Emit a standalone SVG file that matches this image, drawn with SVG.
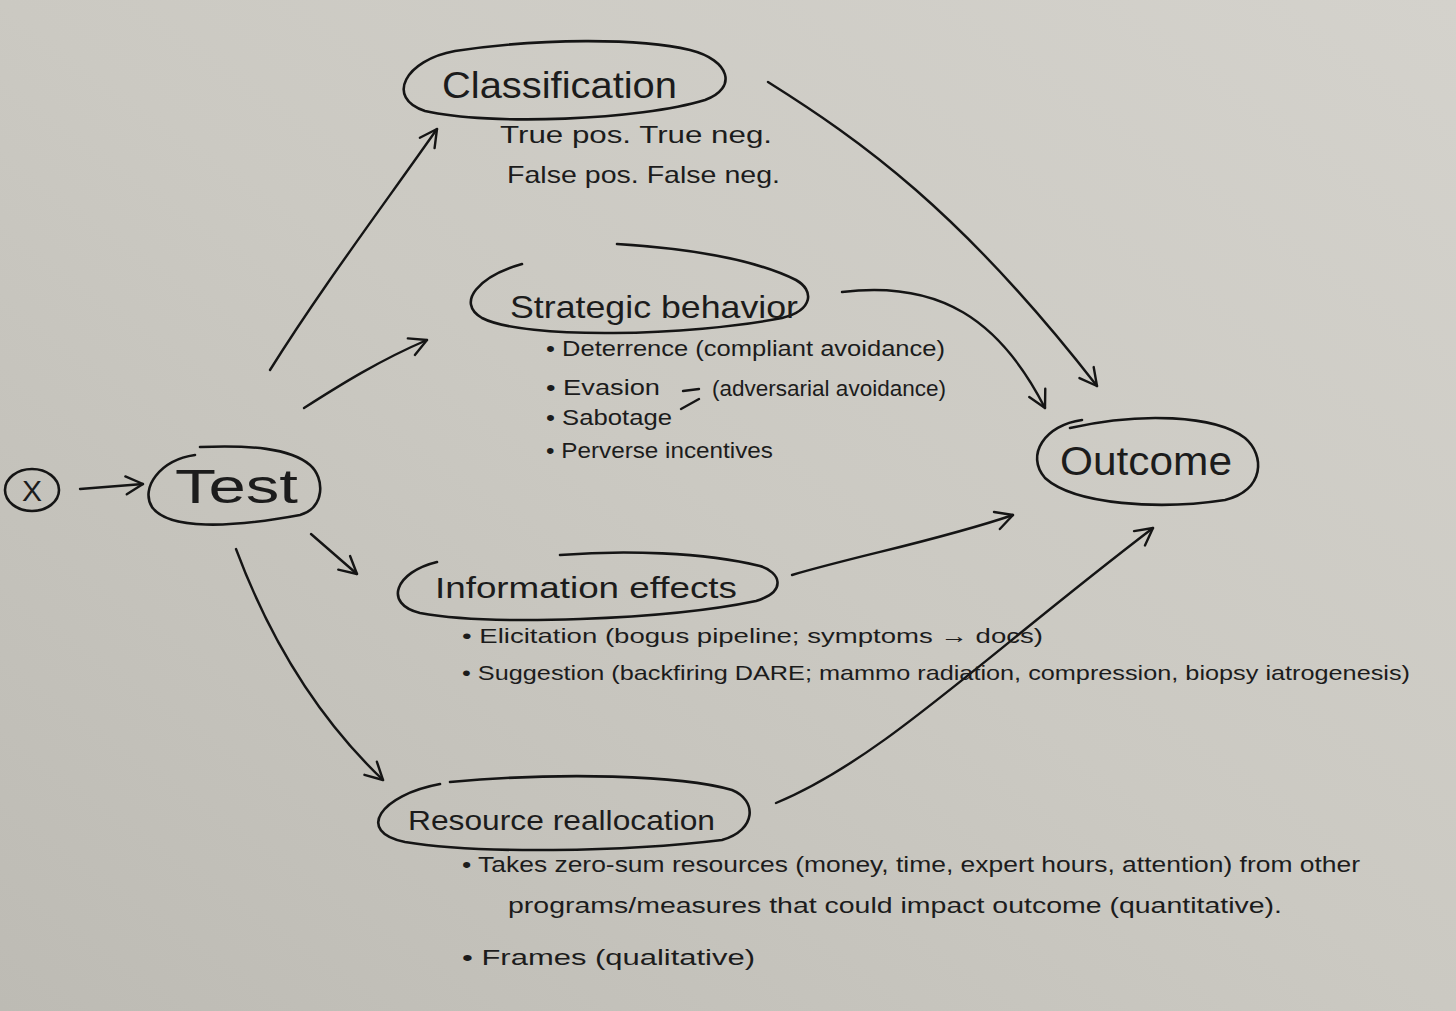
<svg xmlns="http://www.w3.org/2000/svg" width="1456" height="1011" viewBox="0 0 1456 1011">
<defs>
<linearGradient id="bg" x1="1" y1="0" x2="0" y2="1">
<stop offset="0" stop-color="#d4d2cc"/>
<stop offset="0.5" stop-color="#cbc9c2"/>
<stop offset="1" stop-color="#bdbbb4"/>
</linearGradient>
<marker id="arr" viewBox="0 0 24 24" refX="21" refY="12" markerWidth="24" markerHeight="24" markerUnits="userSpaceOnUse" orient="auto">
<path d="M4,3 L21,12 L4,21" fill="none" stroke="#151515" stroke-width="2.4" stroke-linecap="round" stroke-linejoin="round"/>
</marker>
</defs>
<style>
.ln{fill:none;stroke:#151515;stroke-width:2.4;stroke-linecap:round;stroke-linejoin:round}
.nd{fill:none;stroke:#151515;stroke-width:2.6;stroke-linecap:round}
.t{font-family:"Liberation Sans","DejaVu Sans",sans-serif;fill:#1c1c1c}
.sm{font-size:22px}
</style>
<rect width="1456" height="1011" fill="url(#bg)"/>

<g id="connectors">
<path class="ln" d="M80,489 L143,484" marker-end="url(#arr)"/>
<path class="ln" d="M270,370 C320,290 380,210 437,129" marker-end="url(#arr)"/>
<path class="ln" d="M304,408 C340,385 380,360 427,340" marker-end="url(#arr)"/>
<path class="ln" d="M311,534 L357,574" marker-end="url(#arr)"/>
<path class="ln" d="M236,549 C270,640 320,720 383,780" marker-end="url(#arr)"/>
<path class="ln" d="M768,82 C860,140 960,210 1097,386" marker-end="url(#arr)"/>
<path class="ln" d="M842,292 C940,280 1000,320 1045,408" marker-end="url(#arr)"/>
<path class="ln" d="M792,575 C860,555 940,540 1013,515" marker-end="url(#arr)"/>
<path class="ln" d="M776,803 C880,760 980,660 1153,528" marker-end="url(#arr)"/>
</g>

<g id="node-x">
<ellipse class="nd" cx="32" cy="490" rx="27" ry="21"/>
<text class="t" x="32" y="501" font-size="30" text-anchor="middle">X</text>
</g>

<g id="node-test">
<path class="nd" d="M195,455 C160,460 140,488 152,507 C168,530 230,528 300,515 C325,508 325,478 310,465 C290,448 250,445 200,447"/>
<text class="t" x="175" y="503" font-size="48" textLength="123" lengthAdjust="spacingAndGlyphs">Test</text>
</g>

<g id="node-classification">
<path class="nd" d="M455,51 C405,60 385,98 425,111 C490,126 640,120 705,100 C738,88 730,60 690,50 C640,38 540,38 455,51"/>
<text class="t" x="442" y="98" font-size="36" textLength="235" lengthAdjust="spacingAndGlyphs">Classification</text>
<text class="t" x="500" y="143" font-size="24" textLength="272" lengthAdjust="spacingAndGlyphs">True pos.  True neg.</text>
<text class="t" x="507" y="183" font-size="24" textLength="273" lengthAdjust="spacingAndGlyphs">False pos.  False neg.</text>
</g>

<g id="node-strategic">
<path class="nd" d="M522,264 C480,276 455,302 482,318 C525,340 690,336 782,318 C814,310 814,290 796,280 C752,258 680,248 617,244"/>
<text class="t" x="510" y="318" font-size="32" textLength="288" lengthAdjust="spacingAndGlyphs">Strategic behavior</text>
<text class="t sm" x="546" y="356" textLength="399" lengthAdjust="spacingAndGlyphs">• Deterrence (compliant avoidance)</text>
<text class="t sm" x="546" y="395" textLength="114" lengthAdjust="spacingAndGlyphs">• Evasion</text>
<path class="ln" d="M683,391 L699,389 M681,409 L699,399"/>
<text class="t sm" x="712" y="396" textLength="234" lengthAdjust="spacingAndGlyphs">(adversarial avoidance)</text>
<text class="t sm" x="546" y="425" textLength="126" lengthAdjust="spacingAndGlyphs">• Sabotage</text>
<text class="t sm" x="546" y="458" textLength="227" lengthAdjust="spacingAndGlyphs">• Perverse incentives</text>
</g>

<g id="node-outcome">
<path class="nd" d="M1082,420 C1045,425 1025,455 1045,478 C1075,505 1160,510 1225,500 C1265,490 1265,455 1245,438 C1215,415 1140,412 1070,428"/>
<text class="t" x="1060" y="475" font-size="40" textLength="172" lengthAdjust="spacingAndGlyphs">Outcome</text>
</g>

<g id="node-information">
<path class="nd" d="M437,562 C395,572 383,604 420,613 C490,626 665,620 756,601 C788,591 780,572 760,566 C704,552 622,550 560,555"/>
<text class="t" x="435" y="598" font-size="30" textLength="302" lengthAdjust="spacingAndGlyphs">Information effects</text>
<text class="t" x="462" y="643" font-size="21" textLength="581" lengthAdjust="spacingAndGlyphs">• Elicitation (bogus pipeline; symptoms → docs)</text>
<text class="t" x="462" y="680" font-size="21" textLength="948" lengthAdjust="spacingAndGlyphs">• Suggestion (backfiring DARE; mammo radiation, compression, biopsy iatrogenesis)</text>
</g>

<g id="node-resource">
<path class="nd" d="M440,784 C380,795 355,832 405,842 C475,854 625,852 722,840 C757,830 757,800 732,790 C680,775 560,772 450,782"/>
<text class="t" x="408" y="830" font-size="28" textLength="307" lengthAdjust="spacingAndGlyphs">Resource reallocation</text>
<text class="t sm" x="462" y="872" textLength="898" lengthAdjust="spacingAndGlyphs">• Takes zero-sum resources (money, time, expert hours, attention) from other</text>
<text class="t sm" x="508" y="913" textLength="774" lengthAdjust="spacingAndGlyphs">programs/measures that could impact outcome (quantitative).</text>
<text class="t sm" x="462" y="965" textLength="293" lengthAdjust="spacingAndGlyphs">• Frames (qualitative)</text>
</g>
</svg>
